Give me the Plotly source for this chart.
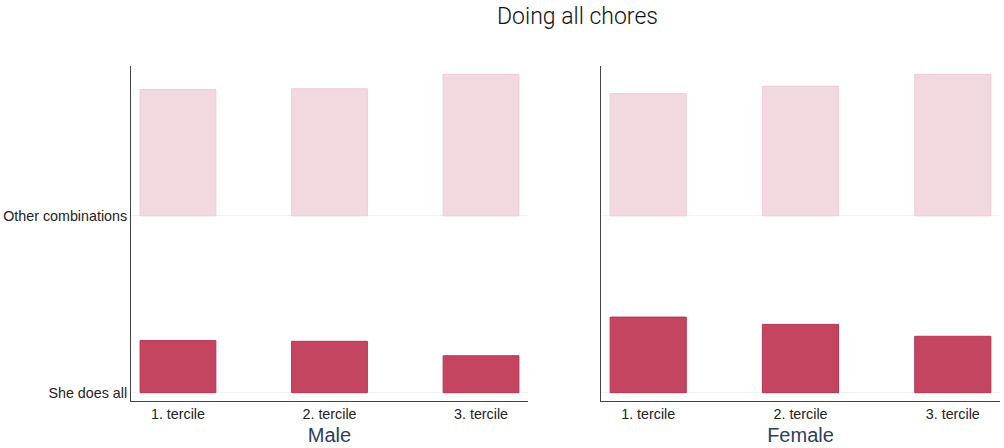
import plotly.graph_objects as go

# ---- data ----
categories = ["1. tercile", "2. tercile", "3. tercile"]
rows = ["She does all", "Other combinations"]
male_she_does_all = [29.2, 28.8, 20.7]
male_other = [70.8, 71.2, 79.3]
female_she_does_all = [38.2, 34.5, 28.5]
female_other = [61.8, 65.5, 71.5]
panels = ["Male", "Female"]

dark_fill = "#c4455f"
dark_line = "#b8334f"
light_fill = "#f2d8df"
light_line = "#f0ccd7"

fig = go.Figure()
xpos = list(range(len(categories)))
ridge_height = 0.8  # fraction of row spacing used by the tallest bar

panel_data = [
    (male_she_does_all, male_other, "x", "y"),
    (female_she_does_all, female_other, "x2", "y2"),
]
for she, other, xa, ya in panel_data:
    pmax = max(she + other)
    for ri, (vals, fill, line) in enumerate([(she, dark_fill, dark_line), (other, light_fill, light_line)]):
        fig.add_trace(go.Bar(
            x=xpos, y=[v / pmax * ridge_height for v in vals], base=[ri] * len(vals),
            width=0.5, marker=dict(color=fill, line=dict(color=line, width=1)),
            xaxis=xa, yaxis=ya, showlegend=False,
            customdata=vals, hovertemplate="%{customdata:.1f}%<extra></extra>",
        ))

tickfont = dict(family="Liberation Sans, Arial, sans-serif", size=14.3, color="#222222")
titlefont = dict(family="Liberation Sans, Arial, sans-serif", size=20, color="#2a3f5f")
xcommon = dict(
    tickvals=xpos, ticktext=categories, range=[-0.31, 2.31],
    showline=True, linecolor="#444444", linewidth=1, showgrid=False, zeroline=False,
    ticks="", tickfont=tickfont, title_font=titlefont, title_standoff=6,
)
ycommon = dict(
    tickvals=list(range(len(rows))), range=[-0.047, 1.85],
    showline=True, linecolor="#444444", linewidth=1, showgrid=True,
    gridcolor="#eef2f6", gridwidth=1, zeroline=False, ticks="", tickfont=tickfont,
)
ydom = [1 - 401 / 448, 1 - 65.5 / 448]

fig.update_layout(
    width=1004, height=448,
    margin=dict(l=0, r=0, t=0, b=0),
    plot_bgcolor="white", paper_bgcolor="white",
    barmode="overlay",
    title=dict(text="Doing all chores", x=577.5 / 1004, xanchor="center", y=1 - 16 / 448, yanchor="middle",
               font=dict(family="Roboto", size=23, color="#111111", weight=300)),
    xaxis=dict(domain=[131 / 1004, 528 / 1004], anchor="y", title_text=panels[0], **xcommon),
    yaxis=dict(domain=ydom, anchor="x", ticktext=rows, **ycommon),
    xaxis2=dict(domain=[601 / 1004, 1000 / 1004], anchor="y2", title_text=panels[1], **xcommon),
    yaxis2=dict(domain=ydom, anchor="x2", ticktext=["", ""], **ycommon),
)

fig.write_html("out.html", config={"displayModeBar": False},
               post_script="document.body.style.margin='0';document.body.style.overflow='hidden';")
